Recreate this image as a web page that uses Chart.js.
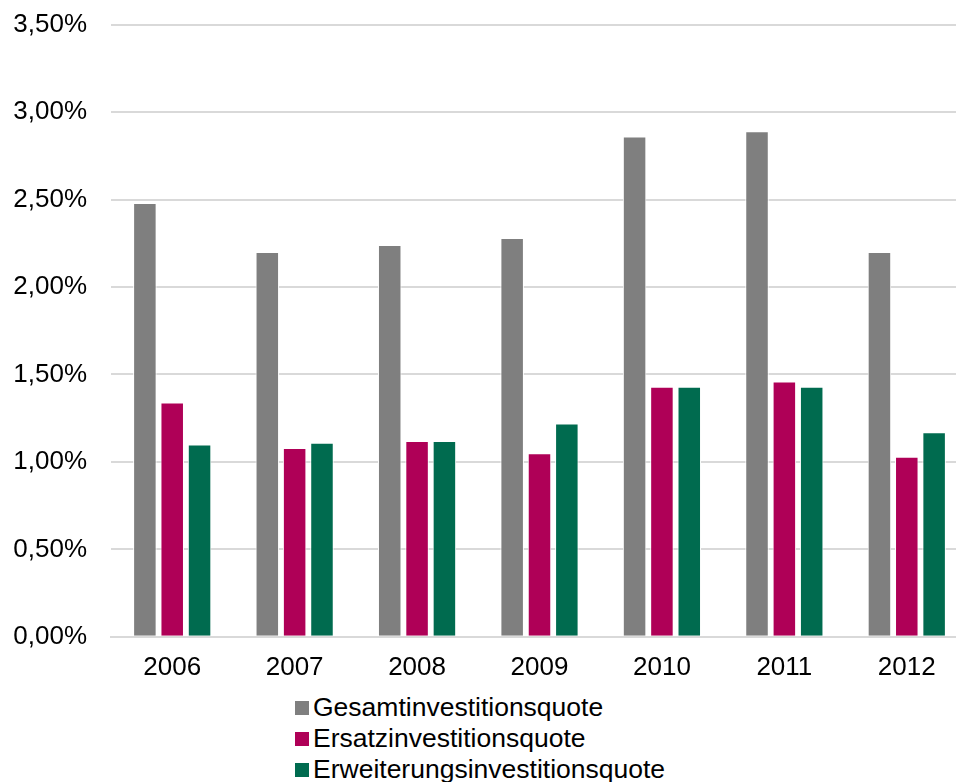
<!DOCTYPE html>
<html>
<head>
<meta charset="utf-8">
<script src="https://cdn.jsdelivr.net/npm/chart.js@4"></script>
<style>
  html, body { margin: 0; padding: 0; background: #fff; overflow: hidden; width: 956px; height: 782px; }
  #wrap { position: absolute; left: 0; top: -15px; width: 970px; height: 705px; }
  #legend { position: absolute; left: 295px; top: 692px; font-family: "Liberation Sans", Arial, sans-serif; font-size: 26.5px; color: #000; }
  #legend div { height: 31px; line-height: 31px; white-space: nowrap; }
  #legend span { display: inline-block; width: 14px; height: 14px; margin-right: 4px; vertical-align: 1px; }
</style>
</head>
<body>
<div id="wrap"><canvas id="chart"></canvas></div>
<div id="legend"></div>
<script>
var years = ['2006', '2007', '2008', '2009', '2010', '2011', '2012'];
var seriesNames = ['Gesamtinvestitionsquote', 'Ersatzinvestitionsquote', 'Erweiterungsinvestitionsquote'];
var gesamt = [2.48, 2.20, 2.24, 2.28, 2.86, 2.89, 2.20];
var ersatz = [1.34, 1.08, 1.12, 1.05, 1.43, 1.46, 1.03];
var erweiterung = [1.10, 1.11, 1.12, 1.22, 1.43, 1.43, 1.17];
var colors = ['#7f7f7f', '#af0057', '#006b4f'];

var values = [gesamt, ersatz, erweiterung];
var datasets = [];
for (var i = 0; i < values.length; i++) {
    datasets.push({
        label: seriesNames[i],
        data: values[i],
        backgroundColor: colors[i],
        borderColor: '#ffffff',
        borderWidth: 1,
        barPercentage: 0.86,
        categoryPercentage: 0.67
    });
}

var font = { family: '"Liberation Sans", Arial, sans-serif', size: 26 };

new Chart(document.getElementById('chart'), {
    type: 'bar',
    data: { labels: years, datasets: datasets },
    options: {
        responsive: true,
        maintainAspectRatio: false,
        animation: false,
        layout: { padding: { left: 12, top: 0, right: 2, bottom: 0 } },
        plugins: {
            legend: { display: false },
            tooltip: { enabled: false }
        },
        scales: {
            x: {
                grid: { display: false },
                border: { display: true, color: '#d9d9d9', width: 2 },
                ticks: { color: '#000', font: font, padding: 7 }
            },
            y: {
                min: 0,
                max: 3.5,
                afterFit: function (scale) { scale.width = 99; },
                grid: { color: '#d9d9d9', lineWidth: 2, drawTicks: false },
                border: { display: false },
                ticks: {
                    stepSize: 0.5,
                    color: '#000',
                    font: font,
                    padding: 24,
                    callback: function (v) { return v.toFixed(2).replace('.', ',') + '%'; }
                }
            }
        }
    }
});

var legend = document.getElementById('legend');
for (var j = 0; j < seriesNames.length; j++) {
    var row = document.createElement('div');
    row.innerHTML = '<span style="background:' + colors[j] + '"></span>' + seriesNames[j];
    legend.appendChild(row);
}
</script>
</body>
</html>
